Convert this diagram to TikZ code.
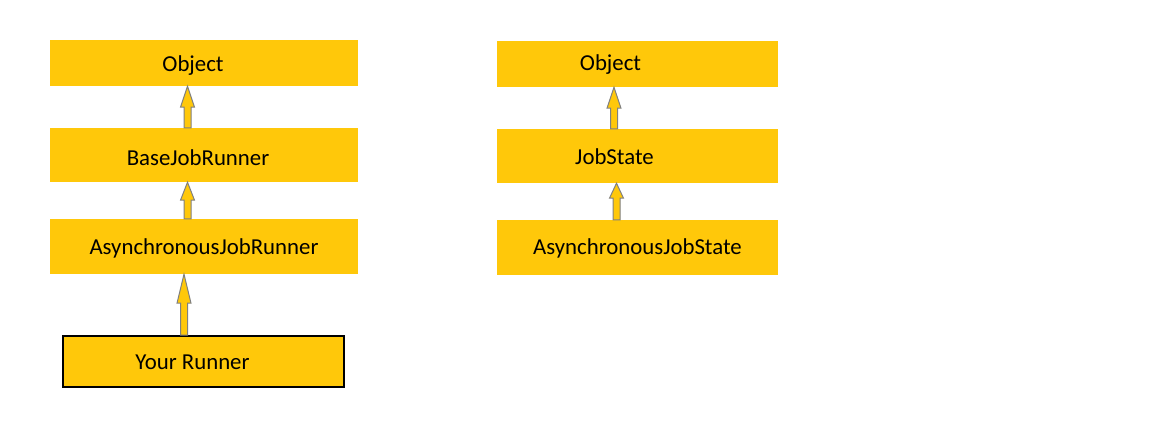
\documentclass[tikz,border=0pt]{standalone}
\usepackage{fontspec}
\setmainfont{Carlito}
\usepackage{xcolor}
\usetikzlibrary{calc}
\definecolor{boxgold}{RGB}{255,200,10}
\definecolor{tipgray}{RGB}{128,128,128}
\tikzset{
	classbox/.style={fill=boxgold,inner sep=0pt},
	arrowbody/.style={draw=tipgray,fill=boxgold,line width=1pt,line join=miter}
}
\newcommand{\blockarrow}[4]{%
	\draw[arrowbody] ($(#2.north -| #1)+(-3.5,0)$) -- ($(#3.south -| #1)+(-3.5,#4)$) -- ($(#3.south -| #1)+(-7,#4)$) -- (#3.south -| #1) -- ($(#3.south -| #1)+(7,#4)$) -- ($(#3.south -| #1)+(3.5,#4)$) -- ($(#2.north -| #1)+(3.5,0)$) -- cycle;}
\begin{document}
\begin{tikzpicture}[x=1pt,y=-1pt,font=\fontsize{22.8}{27}\selectfont]
		\useasboundingbox (0,0) rectangle (1162,441);
		\node[classbox,minimum width=308,minimum height=46,label={[xshift=-11pt,yshift=-3pt]center:Object}] (lobject) at (204,63) {};
		\node[classbox,minimum width=308,minimum height=54,label={[xshift=-6pt,yshift=-3pt]center:BaseJobRunner}] (basejob) at (204,155) {};
		\node[classbox,minimum width=308,minimum height=55,label={[yshift=-2pt]center:AsynchronousJobRunner}] (asyncrunner) at (204,246.5) {};
		\node[classbox,draw=black,line width=2pt,minimum width=281,minimum height=51,label={[xshift=-11pt,yshift=-1pt]center:Your Runner}] (yourrunner) at (203.5,361.5) {};
		\node[classbox,minimum width=281,minimum height=46,label={[xshift=-27pt,yshift=-1pt]center:Object}] (robject) at (637.5,64) {};
		\node[classbox,minimum width=281,minimum height=54,label={[xshift=-23pt,yshift=-1pt]center:JobState}] (jobstate) at (637.5,156) {};
		\node[classbox,minimum width=281,minimum height=55,label={[yshift=-1pt]center:AsynchronousJobState}] (asyncstate) at (637.5,247.5) {};
		\coordinate (lcol) at (187.5,0);
		\coordinate (lcolb) at (184,0);
		\coordinate (rcol) at (614,0);
		\coordinate (rcolb) at (616.5,0);
		\blockarrow{lcol}{basejob}{lobject}{21}
		\blockarrow{lcol}{asyncrunner}{basejob}{18}
		\blockarrow{lcolb}{yourrunner}{asyncrunner}{29}
		\blockarrow{rcol}{jobstate}{robject}{21}
		\blockarrow{rcolb}{asyncstate}{jobstate}{15}
	\end{tikzpicture}
\end{document}
